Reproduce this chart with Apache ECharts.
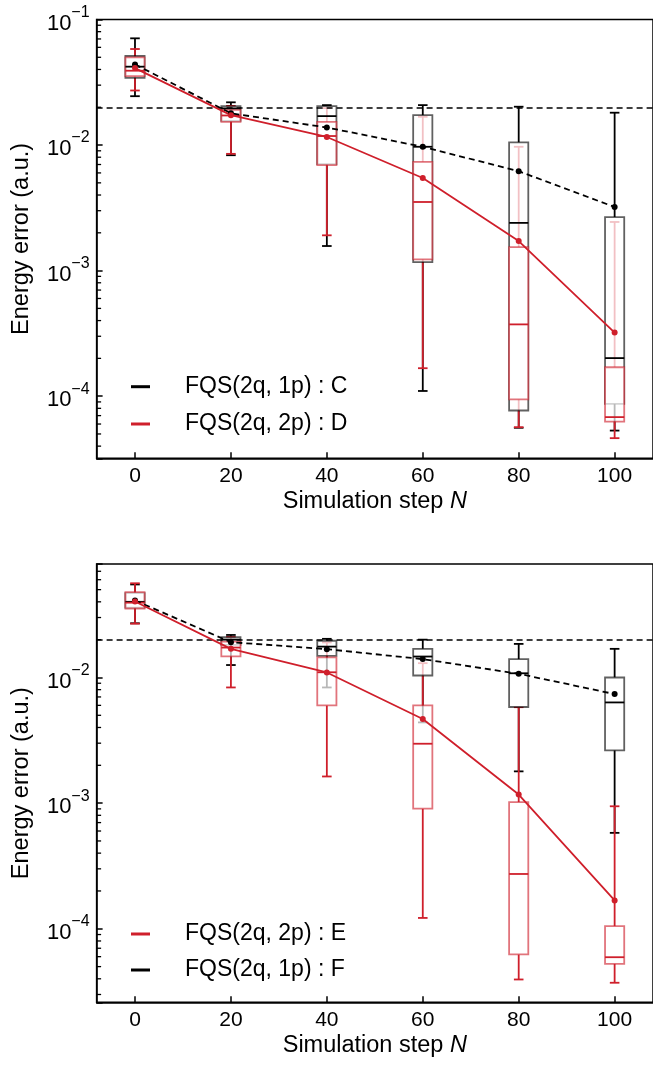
<!DOCTYPE html>
<html><head><meta charset="utf-8">
<script src="https://cdn.jsdelivr.net/npm/echarts@6/dist/echarts.min.js"></script>
<style>html,body{margin:0;padding:0;background:#fff}#c{width:653px;height:1068px}</style>
</head><body><div id="c"></div>
<script>
// ---------- data ----------
const steps = [0, 20, 40, 60, 80, 100];
const xTicks = [0, 20, 40, 60, 80, 100];
const threshold = 0.02;
const xMin = -8, xMax = 108;

// Top panel, FQS(2q, 1p) : C (black)
const C_low  = [0.0245, 0.0083, 0.00157, 0.000110, 0.0000560, 0.0000532];
const C_q1   = [0.0343, 0.0156, 0.00705, 0.00117, 0.0000769, 0.0000869];
const C_med  = [0.0421, 0.0196, 0.0170, 0.00969, 0.00240, 0.000201];
const C_q3   = [0.0512, 0.0204, 0.0204, 0.0173, 0.0105, 0.00267];
const C_high = [0.0708, 0.0219, 0.0208, 0.0208, 0.0202, 0.0181];
const C_mean = [0.0439, 0.0179, 0.0138, 0.00969, 0.00619, 0.00321];

// Top panel, FQS(2q, 2p) : D (red)
const D_low  = [0.0272, 0.00851, 0.00191, 0.000167, 0.0000566, 0.0000463];
const D_q1   = [0.0354, 0.0153, 0.00692, 0.00123, 0.0000942, 0.0000628];
const D_med  = [0.0391, 0.0172, 0.0118, 0.00352, 0.000373, 0.0000681];
const D_q3   = [0.0500, 0.0191, 0.0153, 0.00735, 0.00154, 0.000170];
const D_high = [0.0582, 0.0205, 0.0197, 0.0168, 0.00969, 0.00244];
const D_mean = [0.0410, 0.0173, 0.0116, 0.00547, 0.00172, 0.000321];

// Bottom panel, FQS(2q, 2p) : E (red)
const E_low  = [0.0268, 0.00833, 0.00163, 0.000122, 0.0000395, 0.0000372];
const E_q1   = [0.0354, 0.0147, 0.00599, 0.000903, 0.0000625, 0.0000526];
const E_med  = [0.0394, 0.0173, 0.0110, 0.00297, 0.000273, 0.0000594];
const E_q3   = [0.0477, 0.0193, 0.01443, 0.00599, 0.00102, 0.000105];
const E_high = [0.0562, 0.0210, 0.0190, 0.0130, 0.0058, 0.000944];
const E_mean = [0.0402, 0.0169, 0.01096, 0.00467, 0.00117, 0.000168];

// Bottom panel, FQS(2q, 1p) : F (black)
const F_low  = [0.0270, 0.01256, 0.00833, 0.00439, 0.00179, 0.000580];
const F_q1   = [0.0360, 0.0182, 0.01486, 0.01037, 0.00582, 0.00263];
const F_med  = [0.0400, 0.0200, 0.0176, 0.01468, 0.0108, 0.00633];
const F_q3   = [0.0470, 0.0209, 0.0196, 0.0169, 0.0140, 0.0100];
const F_high = [0.0550, 0.0218, 0.0203, 0.0200, 0.0185, 0.0169];
const F_mean = [0.0410, 0.0191, 0.0168, 0.0140, 0.0107, 0.00738];

const names = {
  C: 'FQS(2q, 1p) : C', D: 'FQS(2q, 2p) : D',
  E: 'FQS(2q, 2p) : E', F: 'FQS(2q, 1p) : F'
};
const yRange = [[3.2e-5, 0.1], [2.6e-5, 0.08]];

// ---------- style ----------
const FONT = 'Liberation Sans';
const RED = '#cf1f2b';
const BLACK = '#000000';
const HALF = 2, CAP = 1;
const LW = 1.8;

function rows(low, q1, med, q3, high) {
  return steps.map((s, i) => [s, low[i], q1[i], med[i], q3[i], high[i]]);
}
function rgba(hex, a) {
  const n = parseInt(hex.slice(1), 16);
  return 'rgba(' + (n >> 16) + ',' + ((n >> 8) & 255) + ',' + (n & 255) + ',' + a + ')';
}

function whiskerSeries(idx, data, color) {
  return {
    type: 'custom', xAxisIndex: idx, yAxisIndex: idx, z: 2, silent: true, data,
    encode: { x: 0, y: [1, 2, 3, 4, 5] },
    renderItem(params, api) {
      const x = api.value(0);
      const lo = api.coord([x, api.value(1)]);
      const q1 = api.coord([x, api.value(2)]);
      const q3 = api.coord([x, api.value(4)]);
      const hi = api.coord([x, api.value(5)]);
      const cl = api.coord([x - CAP, api.value(1)])[0];
      const cr = api.coord([x + CAP, api.value(1)])[0];
      const st = { stroke: color, lineWidth: LW };
      return { type: 'group', children: [
        { type: 'line', shape: { x1: lo[0], y1: lo[1], x2: q1[0], y2: q1[1] }, style: st },
        { type: 'line', shape: { x1: hi[0], y1: hi[1], x2: q3[0], y2: q3[1] }, style: st },
        { type: 'line', shape: { x1: cl, y1: lo[1], x2: cr, y2: lo[1] }, style: st },
        { type: 'line', shape: { x1: cl, y1: hi[1], x2: cr, y2: hi[1] }, style: st }
      ]};
    }
  };
}
function boxSeries(idx, data, color, z) {
  return {
    type: 'custom', xAxisIndex: idx, yAxisIndex: idx, z: z, silent: true, data,
    encode: { x: 0, y: [1, 2, 3, 4, 5] },
    renderItem(params, api) {
      const x = api.value(0);
      const a = api.coord([x - HALF, api.value(4)]);
      const b = api.coord([x + HALF, api.value(2)]);
      return { type: 'rect',
        shape: { x: a[0], y: a[1], width: b[0] - a[0], height: b[1] - a[1] },
        style: { fill: 'rgba(255,255,255,0.72)', stroke: rgba(color, 0.62), lineWidth: LW } };
    }
  };
}
function medianSeries(idx, data, color) {
  return {
    type: 'custom', xAxisIndex: idx, yAxisIndex: idx, z: 5, silent: true, data,
    encode: { x: 0, y: [1, 2, 3, 4, 5] },
    renderItem(params, api) {
      const x = api.value(0);
      const a = api.coord([x - HALF, api.value(3)]);
      const b = api.coord([x + HALF, api.value(3)]);
      return { type: 'line', shape: { x1: a[0], y1: a[1], x2: b[0], y2: b[1] },
        style: { stroke: color, lineWidth: LW } };
    }
  };
}
function meanSeries(idx, name, mean, color, dashed, withThreshold) {
  const s = {
    type: 'line', name, xAxisIndex: idx, yAxisIndex: idx, z: 6,
    data: steps.map((v, i) => [v, mean[i]]),
    symbol: 'circle', symbolSize: 6, showSymbol: true,
    itemStyle: { color },
    lineStyle: { color, width: LW, type: dashed ? [6, 4] : 'solid' }
  };
  if (withThreshold) {
    s.markLine = { silent: true, symbol: 'none', label: { show: false },
      lineStyle: { color: '#000', width: 1.6, type: [6, 4] },
      data: [{ yAxis: threshold }] };
  }
  return s;
}
function minorTickSeries(idx) {
  const vals = [];
  for (let k = -6; k <= 0; k++) {
    for (let m = 2; m <= 9; m++) {
      const v = m * Math.pow(10, k);
      if (v > yRange[idx][0] && v < yRange[idx][1]) vals.push([xMin, v]);
    }
  }
  return {
    type: 'custom', xAxisIndex: idx, yAxisIndex: idx, z: 7, silent: true, clip: false, data: vals,
    encode: { x: 0, y: 1 },
    renderItem(params, api) {
      const p = api.coord([api.value(0), api.value(1)]);
      return { type: 'line', shape: { x1: p[0], y1: p[1], x2: p[0] + 4.5, y2: p[1] },
        style: { stroke: '#000', lineWidth: 1.3 } };
    }
  };
}

function yLabel(v) {
  const e = Math.round(Math.log10(v));
  if (Math.abs(v / Math.pow(10, e) - 1) > 1e-6) return '';
  return '{b|10}{s|\u2212' + (-e) + '}';
}
function xAxis(idx) {
  return {
    type: 'value', gridIndex: idx, min: xMin, max: xMax,
    name: 'Simulation step {i|N}', nameLocation: 'middle', nameGap: 25,
    nameTextStyle: { fontFamily: FONT, fontSize: 23.5, color: '#000', lineHeight: 28,
      rich: { i: { fontFamily: FONT, fontSize: 23.5, fontStyle: 'italic', color: '#000', lineHeight: 28 } } },
    axisLine: { show: true, onZero: false, lineStyle: { color: '#000', width: 1.5 } },
    axisTick: { show: true, inside: true, length: 6, customValues: xTicks, lineStyle: { color: '#000', width: 1.5 } },
    axisLabel: { customValues: xTicks, margin: 7, fontFamily: FONT, fontSize: 21, color: '#000', lineHeight: 21 },
    splitLine: { show: false }
  };
}
function yAxis(idx) {
  return {
    type: 'log', logBase: 10, gridIndex: idx, min: yRange[idx][0], max: yRange[idx][1],
    name: 'Energy error (a.u.)', nameLocation: 'middle', nameGap: 59, nameRotate: 90,
    nameTextStyle: { fontFamily: FONT, fontSize: 23.5, color: '#000', lineHeight: 28 },
    axisLine: { show: true, onZero: false, lineStyle: { color: '#000', width: 1.5 } },
    axisTick: { show: true, inside: true, length: 6, lineStyle: { color: '#000', width: 1.5 } },
    minorTick: { show: false },
    splitLine: { show: false },
    axisLabel: {
      margin: 7, showMinLabel: true, showMaxLabel: true, formatter: yLabel,
      rich: {
        b: { fontFamily: FONT, fontSize: 22, lineHeight: 22, padding: [8, 0, 0, 0], color: '#000' },
        s: { fontFamily: FONT, fontSize: 16, lineHeight: 16, padding: [0, 0, 14, 0], color: '#000' }
      }
    }
  };
}
function legend(idx, list, top, gap) {
  return {
    data: list, left: 131, top, orient: 'vertical', padding: 0,
    itemWidth: 19, itemHeight: 3, itemGap: gap, icon: 'rect', selectedMode: false,
    textStyle: { fontFamily: FONT, fontSize: 23, color: '#000', lineHeight: 30, padding: [0, 0, 0, 30] }
  };
}

const dataC = rows(C_low, C_q1, C_med, C_q3, C_high);
const dataD = rows(D_low, D_q1, D_med, D_q3, D_high);
const dataE = rows(E_low, E_q1, E_med, E_q3, E_high);
const dataF = rows(F_low, F_q1, F_med, F_q3, F_high);

const option = {
  animation: false,
  backgroundColor: '#fff',
  grid: [
    { left: 94, top: 19.5, width: 564, height: 438.8, show: true, borderColor: '#000', borderWidth: 1.5, backgroundColor: 'transparent' },
    { left: 94, top: 564, width: 564, height: 438.3, show: true, borderColor: '#000', borderWidth: 1.5, backgroundColor: 'transparent' }
  ],
  xAxis: [xAxis(0), xAxis(1)],
  yAxis: [yAxis(0), yAxis(1)],
  legend: [
    legend(0, [names.C, names.D], 371.7, 7.3),
    legend(1, [names.E, names.F], 919, 6)
  ],
  series: [
    // top panel
    whiskerSeries(0, dataC, BLACK),
    whiskerSeries(0, dataD, RED),
    boxSeries(0, dataC, BLACK, 3),
    boxSeries(0, dataD, RED, 4),
    medianSeries(0, dataC, BLACK),
    medianSeries(0, dataD, RED),
    meanSeries(0, names.C, C_mean, BLACK, true, true),
    meanSeries(0, names.D, D_mean, RED, false, false),
    minorTickSeries(0),
    // bottom panel
    whiskerSeries(1, dataF, BLACK),
    whiskerSeries(1, dataE, RED),
    boxSeries(1, dataF, BLACK, 3),
    boxSeries(1, dataE, RED, 4),
    medianSeries(1, dataF, BLACK),
    medianSeries(1, dataE, RED),
    meanSeries(1, names.F, F_mean, BLACK, true, true),
    meanSeries(1, names.E, E_mean, RED, false, false),
    minorTickSeries(1)
  ]
};
const chart = echarts.init(document.getElementById('c'), null, { renderer: 'canvas' });
chart.setOption(option);
</script>
</body></html>
